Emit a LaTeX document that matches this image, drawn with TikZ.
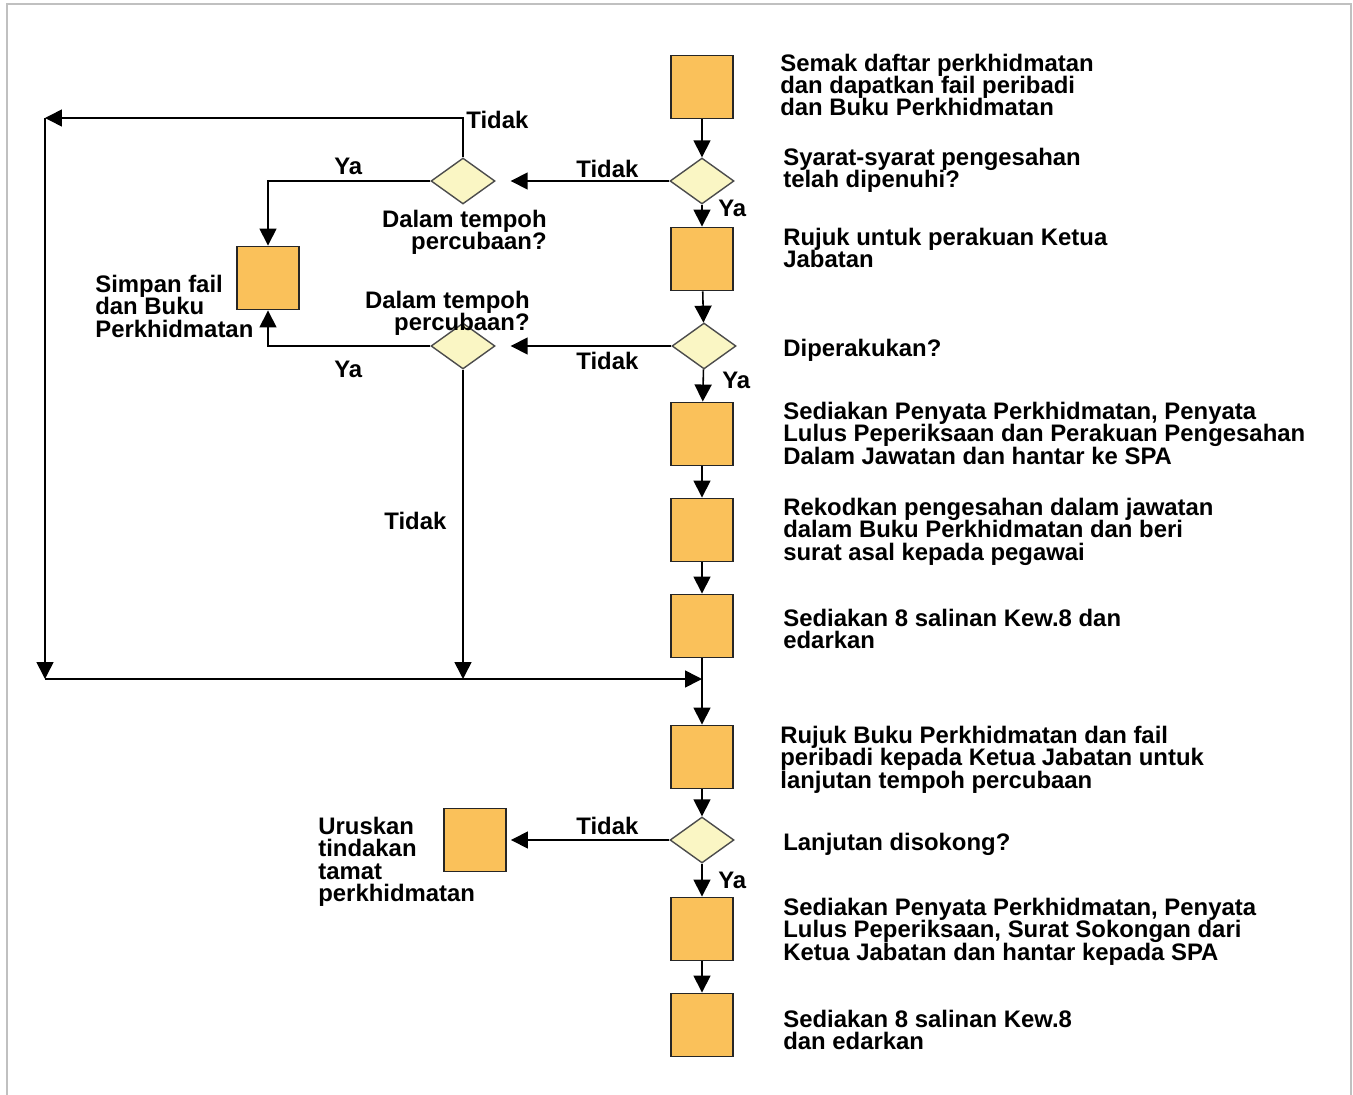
\documentclass[tikz,border=0pt]{standalone}
\usepackage{fontspec}
\setmainfont{Liberation Sans}
\usetikzlibrary{arrows.meta,shapes.geometric}

\definecolor{boxorange}{RGB}{250,193,90}
\definecolor{decyellow}{RGB}{250,246,196}
\definecolor{framegray}{RGB}{192,192,192}

\tikzset{
  procbox/.style={draw=black!85, line width=1.1pt, fill=boxorange, minimum width=1.24cm, minimum height=1.26cm, inner sep=0pt},
  decision/.style={diamond, draw=black!70, line width=0.8pt, fill=decyellow, minimum width=1.28cm, minimum height=0.92cm, inner sep=0pt},
  txt/.style={font=\bfseries\fontsize{13.6}{12.75}\selectfont, align=left, inner sep=0pt, anchor=base west},
  flow/.style={line width=0.9pt, -{Triangle[length=0.34cm,width=0.34cm]}},
}

\begin{document}
\begin{tikzpicture}[x=0.02cm, y=-0.02cm]
        \useasboundingbox (0,0) rectangle (1353,1095);
        % Frame
        \draw[framegray, line width=1.2pt] (7,1095) -- (7,4) -- (1351,4) -- (1351,1095);

        % Main column
        \node[procbox] (b1) at (702,87) {};
        \node[decision] (d1) at (702,181) {};
        \node[procbox] (b2) at (702,259) {};
        \node[decision] (d2) at (704,346) {};
        \node[procbox] (b3) at (702,434) {};
        \node[procbox] (b4) at (702,530) {};
        \node[procbox] (b5) at (702,626) {};
        \node[procbox] (b6) at (702,757) {};
        \node[decision] (d5) at (702,840) {};
        \node[procbox] (b7) at (702,929) {};
        \node[procbox] (b8) at (702,1025) {};

        % Side branch
        \node[decision] (d3) at (463,181) {};
        \node[decision] (d4) at (463,346) {};
        \node[procbox] (simpan) at (268,278) {};
        \node[procbox] (uruskan) at (475,840) {};

        % Junction points
        \coordinate (topleft) at (45,118);
        \coordinate (botleft) at (45,679);
        \coordinate (merge) at (702,679);

        % Step texts (anchored at the baseline of the last line)
        \node[txt] (t1) at (780,116) {Semak daftar perkhidmatan\\dan dapatkan fail peribadi\\dan Buku Perkhidmatan};
        \node[txt] (t2) at (783,187.5) {Syarat-syarat pengesahan\\telah dipenuhi?};
        \node[txt] (t3) at (783,267.5) {Rujuk untuk perakuan Ketua\\Jabatan};
        \node[txt] (t4) at (783,356) {Diperakukan?};
        \node[txt] (t5) at (783,464) {Sediakan Penyata Perkhidmatan, Penyata\\Lulus Peperiksaan dan Perakuan Pengesahan\\Dalam Jawatan dan hantar ke SPA};
        \node[txt] (t6) at (783,560) {Rekodkan pengesahan dalam jawatan\\dalam Buku Perkhidmatan dan beri\\surat asal kepada pegawai};
        \node[txt] (t7) at (783,648.5) {Sediakan 8 salinan Kew.8 dan\\edarkan};
        \node[txt] (t8) at (780,788) {Rujuk Buku Perkhidmatan dan fail\\peribadi kepada Ketua Jabatan untuk\\lanjutan tempoh percubaan};
        \node[txt] (t9) at (783,850) {Lanjutan disokong?};
        \node[txt] (t10) at (783,960) {Sediakan Penyata Perkhidmatan, Penyata\\Lulus Peperiksaan, Surat Sokongan dari\\Ketua Jabatan dan hantar kepada SPA};
        \node[txt] (t11) at (783,1049.5) {Sediakan 8 salinan Kew.8\\dan edarkan};

        % Side texts
        \node[txt] (tsimpan) at (95,337) {Simpan fail\\dan Buku\\Perkhidmatan};
        \node[txt, align=right, anchor=base east] (td3) at (547,249.5) {Dalam tempoh\\percubaan?};
        \node[txt, align=right, anchor=base east] (td4) at (530,330.5) {Dalam tempoh\\percubaan?};
        \node[txt] (turus) at (318,901.5) {Uruskan\\tindakan\\tamat\\perkhidmatan};

        % Yes / no labels
        \node[txt] (no1) at (576,177) {Tidak};
        \node[txt] (yes1) at (718,216) {Ya};
        \node[txt] (no2) at (576,369) {Tidak};
        \node[txt] (yes2) at (722,388) {Ya};
        \node[txt] (no3) at (466,129) {Tidak};
        \node[txt] (yes3) at (334,174) {Ya};
        \node[txt] (yes4) at (334,377) {Ya};
        \node[txt] (no4) at (384,529) {Tidak};
        \node[txt] (no5) at (576,834) {Tidak};
        \node[txt] (yes5) at (718,888) {Ya};

        % Arrows
        \draw[flow] (b1) -- (d1);
        \draw[flow] (d1) -- (b2);
        \draw[flow] (b2) -- (d2);
        \draw[flow] (d2) -- (b3);
        \draw[flow] (b3) -- (b4);
        \draw[flow] (b4) -- (b5);
        \draw[flow] (b5) -- (b6);
        \draw[flow] (b6) -- (d5);
        \draw[flow] (d5) -- (b7);
        \draw[flow] (b7) -- (b8);
        \draw[flow, shorten >=0.3cm] (d1) -- (d3);
        \draw[flow, shorten >=0.3cm] (d2) -- (d4);
        \draw[flow, shorten >=0.08cm] (d5) -- (uruskan);
        \draw[flow] (d3.west) -| (simpan.north);
        \draw[flow] (d4.west) -| (simpan.south);
        \draw[flow] (d3.north) |- (topleft);
        \draw[flow] (topleft) -- (botleft);
        \draw[flow] (botleft) -- (merge);
        \draw[flow] (d4.south) -- (d4.south |- botleft);
\end{tikzpicture}
\end{document}
